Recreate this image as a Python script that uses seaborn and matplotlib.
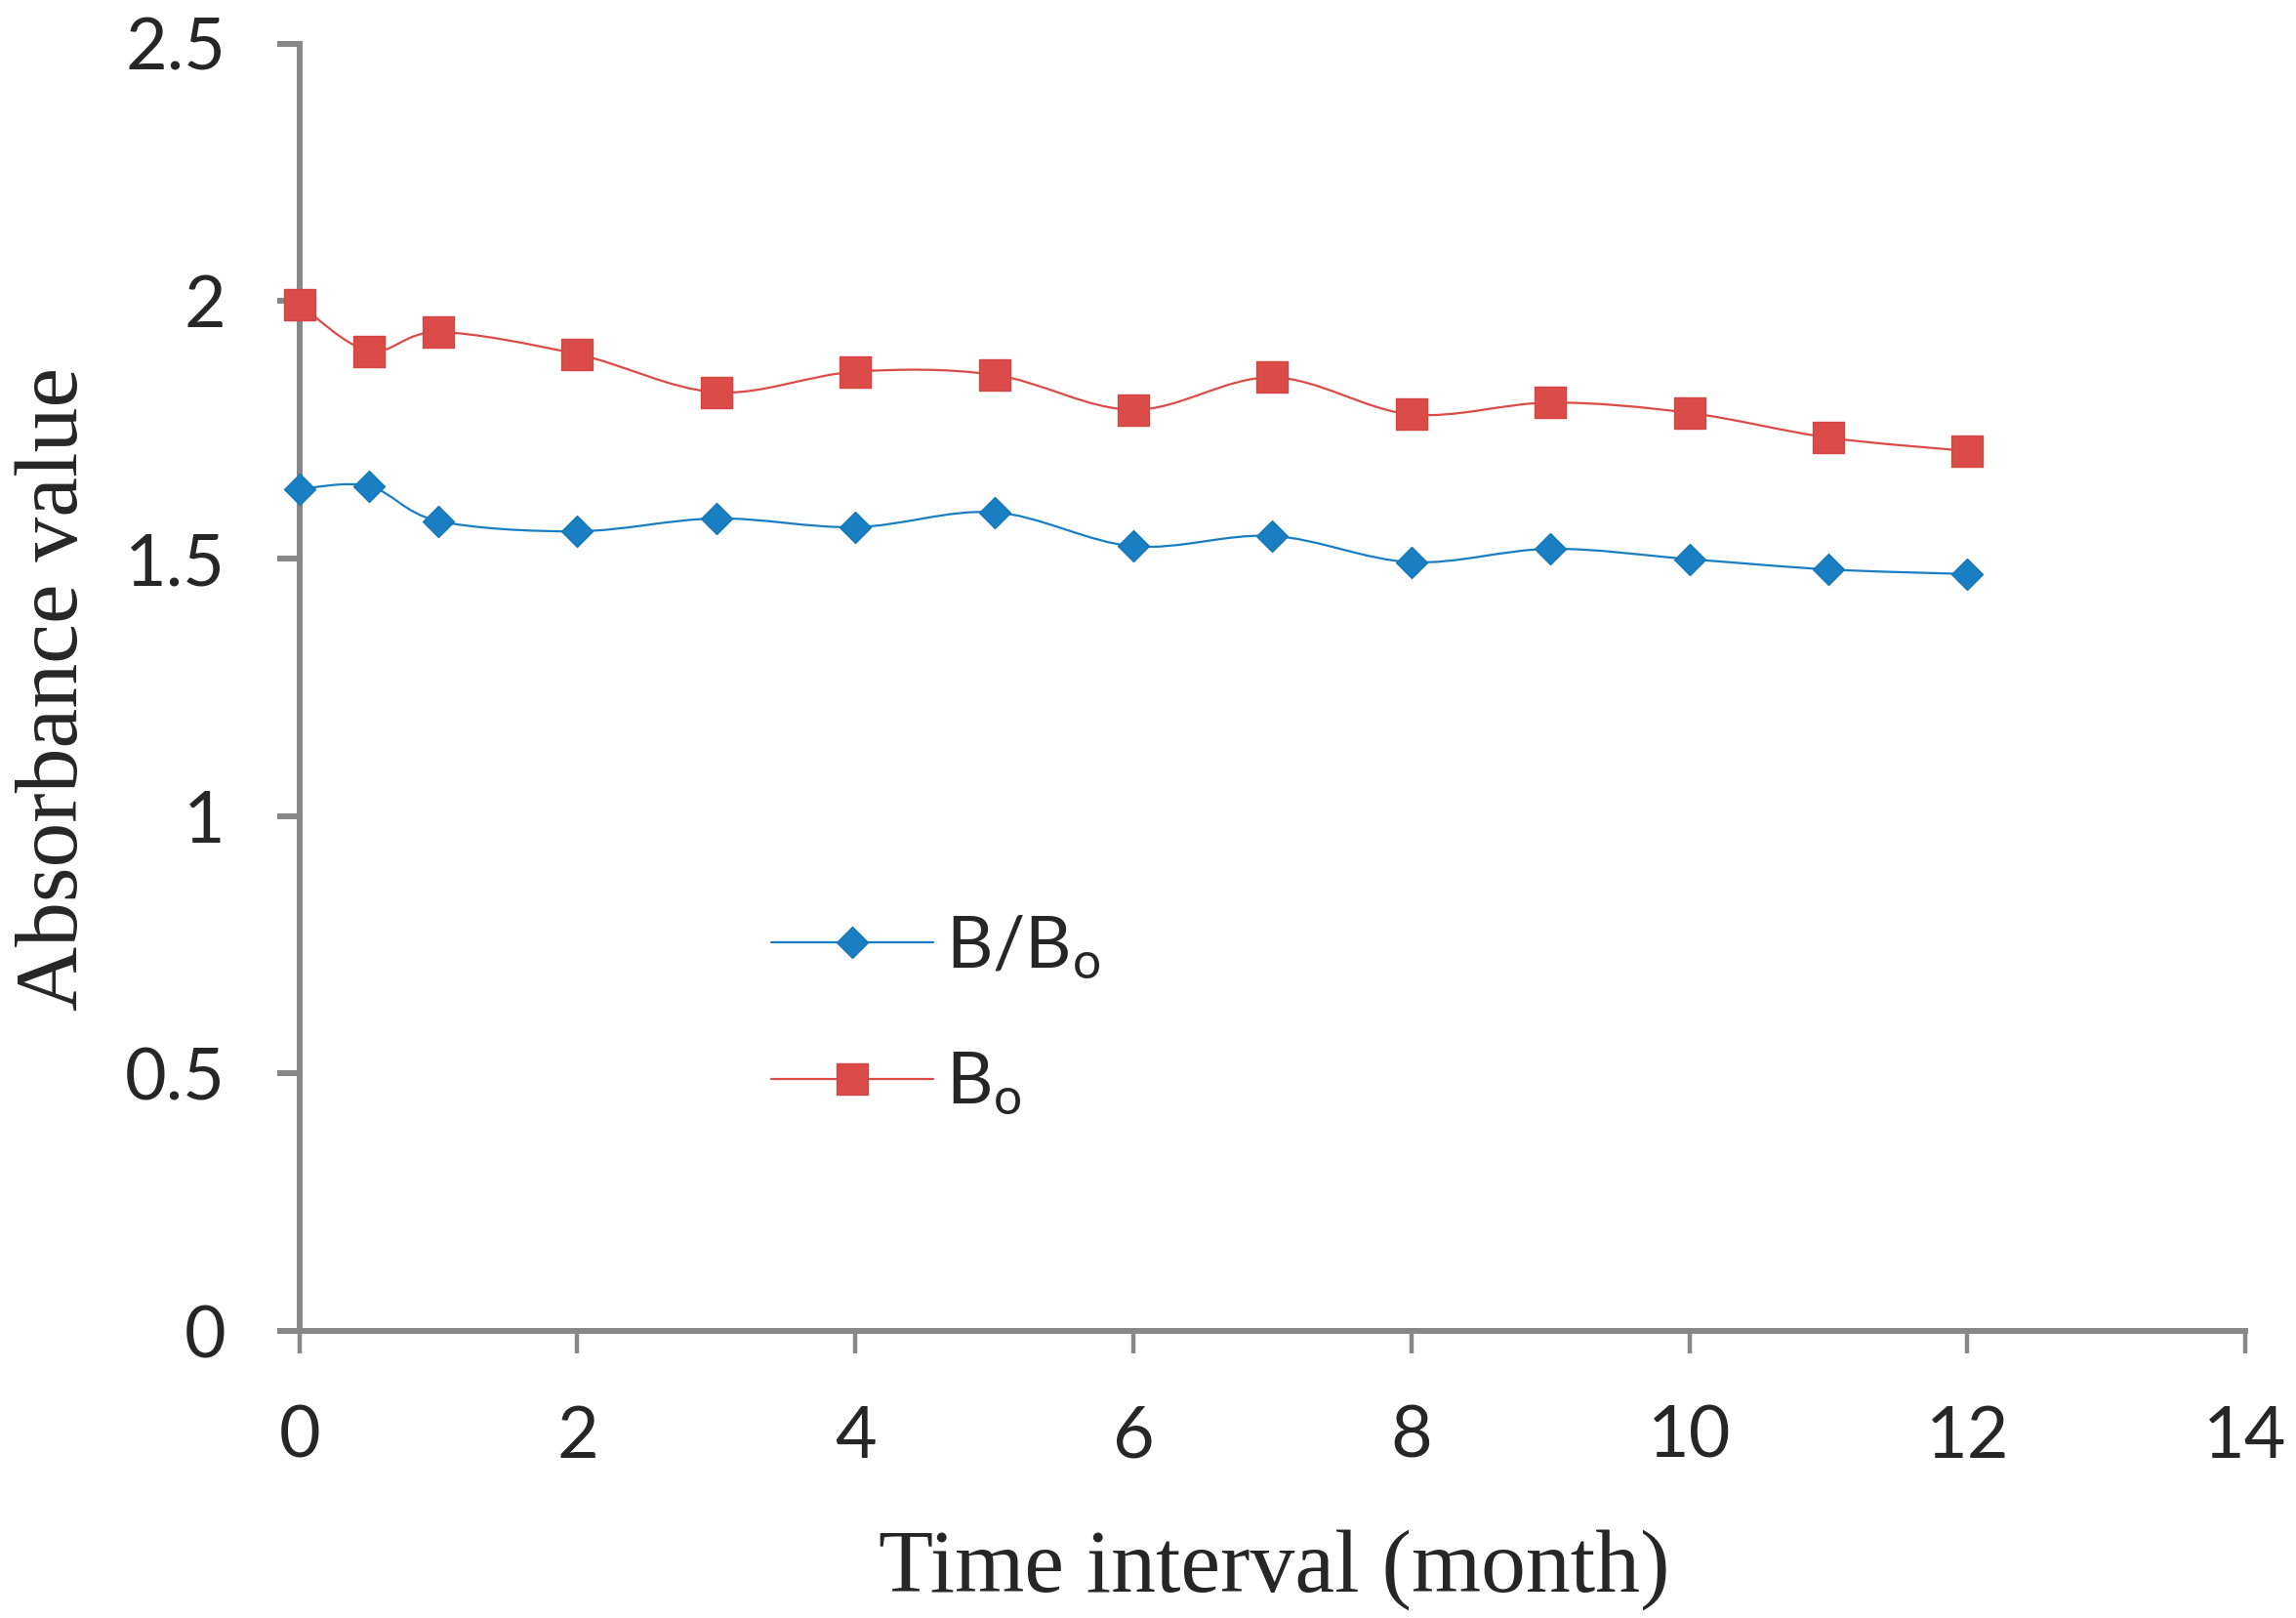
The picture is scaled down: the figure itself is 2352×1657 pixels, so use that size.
import numpy as np
import pandas as pd
import seaborn as sns
import matplotlib.pyplot as plt
from matplotlib.path import Path
from matplotlib.patches import PathPatch
from matplotlib.lines import Line2D
from matplotlib.ticker import FuncFormatter

# values
time_months = [0, 0.5, 1, 2, 3, 4, 5, 6, 7, 8, 9, 10, 11, 12]
b_ratio = [1.635, 1.641, 1.573, 1.553, 1.578, 1.561, 1.590, 1.524, 1.544, 1.493, 1.519, 1.499, 1.479, 1.470]
b_zero = [1.994, 1.903, 1.940, 1.897, 1.823, 1.863, 1.857, 1.789, 1.852, 1.780, 1.803, 1.783, 1.735, 1.709]
series_names = ["B/Bo", "Bo"]
series_labels = [r"B/B$\mathregular{_o}$", r"B$\mathregular{_o}$"]
x_ticks = [0, 2, 4, 6, 8, 10, 12, 14]
y_ticks = [0, 0.5, 1, 1.5, 2, 2.5]

BLUE = "#1a7ec2"
RED = "#db4b48"
GREY = "#878787"

sns.set_style("white")
plt.rcParams['font.family'] = ['Lato', 'DejaVu Sans']
plt.rcParams['mathtext.fontset'] = 'custom'
plt.rcParams['mathtext.rm'] = 'Lato'


def smooth_path(x, y):
    # excel-style smoothed line: catmull-rom through the points as bezier segments
    pts = np.column_stack([x, y]).astype(float)
    n = len(pts)
    verts = [pts[0]]
    codes = [Path.MOVETO]
    for i in range(n - 1):
        p0 = pts[max(i - 1, 0)]
        p1 = pts[i]
        p2 = pts[i + 1]
        p3 = pts[min(i + 2, n - 1)]
        verts += [p1 + (p2 - p0) / 6, p2 - (p3 - p1) / 6, p2]
        codes += [Path.CURVE4] * 3
    return Path(verts, codes)


df = pd.DataFrame({
    "time": time_months * 2,
    "value": b_ratio + b_zero,
    "series": [series_names[0]] * len(time_months) + [series_names[1]] * len(time_months),
})

fig = plt.figure(figsize=(23.52, 16.57), dpi=100)
ax = fig.add_axes([0.1304, 0.1774, 0.8475, 0.7956])

for vals, col in zip([b_ratio, b_zero], [BLUE, RED]):
    ax.add_patch(PathPatch(smooth_path(time_months, vals), fill=False,
                           edgecolor=col, lw=1.6, zorder=2))

sub = df[df.series == series_names[0]]
sns.scatterplot(data=sub, x="time", y="value", marker="D", s=265, color=BLUE,
                edgecolor="#1677b8", linewidth=1, ax=ax, legend=False, zorder=4, clip_on=False)
sub = df[df.series == series_names[1]]
sns.scatterplot(data=sub, x="time", y="value", marker="s", s=530, color=RED,
                edgecolor="#d44643", linewidth=1, ax=ax, legend=False, zorder=4, clip_on=False)

ax.set_xlim(0, 14)
ax.set_ylim(0, 2.5)
ax.set_xticks(x_ticks)
ax.set_yticks(y_ticks)
ax.yaxis.set_major_formatter(FuncFormatter(lambda v, p: f"{v:g}"))

for s in ["top", "right"]:
    ax.spines[s].set_visible(False)
for s in ["left", "bottom"]:
    ax.spines[s].set_color(GREY)
    ax.spines[s].set_linewidth(4.3)
ax.tick_params(axis="y", length=16.5, width=4.3, color=GREY, pad=38, labelsize=53, direction="out", left=True)
ax.tick_params(axis="x", length=16.5, width=3.2, color=GREY, pad=38, labelsize=53, direction="out", bottom=True)

ax.set_xlabel("Time interval (month)", family="Liberation Serif", fontsize=66, va="baseline")
ax.xaxis.set_label_coords(0.501, -0.2025)
ax.set_ylabel("Absorbance value", family="Liberation Serif", fontsize=66, va="center")
ax.yaxis.set_label_coords(-0.1255, 0.499)

handles = [
    Line2D([], [], color=BLUE, lw=1.6, marker="D", markersize=16.3, markeredgecolor="#1677b8"),
    Line2D([], [], color=RED, lw=1.6, marker="s", markersize=23, markeredgecolor="#d44643"),
]
ax.legend(handles, series_labels, loc="center left", bbox_to_anchor=(0.2425, 0.2455),
          frameon=False, fontsize=53, handlelength=2.25, handletextpad=0.18,
          labelspacing=0.98, borderpad=0, borderaxespad=0)

fig.savefig("out.png", dpi=100)
